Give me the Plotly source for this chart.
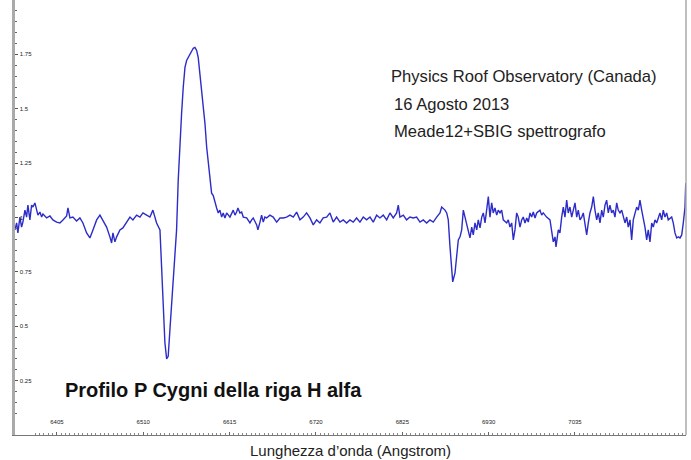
import plotly.graph_objects as go

# Wavelength (Angstrom) and normalised flux of the H-alpha region spectrum
wavelength = [
    6353.9, 6356.0, 6357.5, 6360.0, 6362.0, 6363.6, 6366.1, 6368.1, 6369.7, 6372.1,
    6374.2, 6375.8, 6378.2, 6380.3, 6381.9, 6384.3, 6386.4, 6388.0, 6392.5, 6396.5,
    6400.1, 6404.6, 6408.6, 6412.3, 6416.8, 6418.4, 6420.8, 6424.4, 6428.9, 6432.9,
    6436.6, 6441.1, 6445.1, 6448.8, 6453.3, 6457.3, 6460.9, 6465.4, 6469.4, 6471.5,
    6473.1, 6475.5, 6477.6, 6481.6, 6485.2, 6489.7, 6493.8, 6497.4, 6501.9, 6505.9,
    6509.6, 6514.1, 6518.1, 6521.7, 6524.2, 6526.2, 6530.3, 6532.3, 6534.3, 6536.3,
    6538.4, 6540.3, 6542.4, 6546.4, 6550.5, 6552.5, 6554.6, 6556.6, 6558.6, 6560.7,
    6562.7, 6564.7, 6566.7, 6568.8, 6570.8, 6572.8, 6574.9, 6576.8, 6578.9, 6581.0,
    6582.9, 6585.0, 6587.1, 6589.0, 6591.1, 6593.1, 6595.1, 6597.1, 6599.2, 6601.2,
    6603.2, 6605.3, 6607.2, 6609.3, 6611.4, 6615.4, 6619.4, 6621.5, 6623.5, 6625.1,
    6627.5, 6629.6, 6631.6, 6635.7, 6639.7, 6641.8, 6643.7, 6647.9, 6649.4, 6651.9,
    6653.9, 6655.9, 6657.9, 6660.0, 6664.0, 6668.0, 6670.1, 6672.2, 6676.2, 6680.2,
    6684.3, 6688.4, 6692.4, 6696.5, 6700.5, 6704.5, 6708.6, 6712.7, 6716.7, 6720.8,
    6724.8, 6728.8, 6733.0, 6737.0, 6741.0, 6745.1, 6749.2, 6753.2, 6757.3, 6761.3,
    6765.3, 6769.4, 6773.5, 6777.5, 6781.6, 6785.7, 6789.7, 6793.8, 6797.8, 6801.8,
    6806.0, 6810.0, 6814.0, 6818.1, 6820.1, 6822.1, 6826.2, 6830.2, 6834.3, 6838.3,
    6842.4, 6846.5, 6850.5, 6854.6, 6858.6, 6862.6, 6866.8, 6870.8, 6872.9, 6876.9,
    6879.0, 6880.9, 6883.0, 6885.1, 6886.3, 6889.1, 6891.2, 6893.1, 6895.2, 6897.2,
    6899.2, 6901.3, 6903.3, 6905.3, 6907.3, 6909.4, 6911.3, 6913.4, 6915.5, 6917.4,
    6919.5, 6921.6, 6923.5, 6925.6, 6927.6, 6929.6, 6931.6, 6933.7, 6935.6, 6937.7,
    6939.8, 6941.7, 6943.8, 6945.8, 6947.8, 6951.9, 6953.9, 6955.9, 6958.0, 6960.0,
    6962.0, 6964.1, 6966.0, 6968.1, 6970.2, 6972.1, 6974.2, 6976.3, 6978.2, 6980.3,
    6982.3, 6984.3, 6986.4, 6988.4, 6992.4, 6994.5, 6996.4, 7000.5, 7004.6, 7006.6,
    7008.6, 7010.7, 7011.9, 7014.7, 7016.7, 7018.8, 7020.8, 7022.8, 7024.9, 7026.8,
    7028.9, 7031.0, 7032.9, 7035.0, 7037.1, 7039.0, 7041.1, 7043.2, 7045.1, 7047.2,
    7049.2, 7051.2, 7053.2, 7055.3, 7057.3, 7059.3, 7061.4, 7063.3, 7065.4, 7067.5,
    7069.4, 7071.5, 7073.5, 7075.5, 7077.5, 7079.6, 7081.6, 7083.6, 7085.7, 7087.6,
    7089.7, 7091.8, 7093.7, 7095.8, 7097.9, 7099.8, 7101.9, 7103.9, 7105.9, 7108.0,
    7110.0, 7112.0, 7114.0, 7116.1, 7118.0, 7120.1, 7122.2, 7124.1, 7126.2, 7128.3,
    7130.2, 7132.3, 7134.3, 7136.3, 7138.3, 7140.4, 7142.4, 7144.4, 7146.5, 7148.4,
    7150.5, 7152.6, 7154.5, 7156.6, 7158.7, 7160.6, 7162.7, 7164.8, 7166.7, 7168.8,
    7169.7,
]

flux = [
    0.943, 0.975, 0.929, 1.002, 0.956, 0.979, 1.034, 1.002, 1.057, 0.989,
    1.057, 1.048, 1.067, 1.034, 1.011, 1.025, 1.002, 1.016, 0.998, 1.007,
    0.989, 0.979, 0.975, 0.989, 1.007, 1.044, 0.998, 1.002, 0.984, 0.998,
    0.975, 0.929, 0.906, 0.943, 0.989, 1.011, 0.989, 0.956, 0.911, 0.883,
    0.929, 0.888, 0.911, 0.943, 0.952, 0.979, 1.002, 0.989, 1.011, 1.002,
    1.021, 1.011, 1.002, 1.034, 1.002, 0.975, 0.943, 0.791, 0.635, 0.424,
    0.350, 0.362, 0.484, 0.700, 0.943, 1.172, 1.356, 1.479, 1.599, 1.690,
    1.722, 1.736, 1.755, 1.768, 1.778, 1.782, 1.768, 1.736, 1.663, 1.585,
    1.507, 1.433, 1.323, 1.250, 1.186, 1.112, 1.101, 1.067, 1.044, 1.021,
    1.034, 1.002, 1.021, 0.998, 1.021, 1.002, 1.034, 1.011, 1.025, 1.044,
    1.021, 1.025, 1.002, 0.998, 0.975, 0.989, 0.998, 0.966, 0.943, 0.979,
    1.011, 0.979, 1.002, 0.998, 1.011, 1.002, 0.989, 0.979, 0.998, 0.998,
    1.002, 1.011, 1.002, 1.025, 0.989, 1.002, 1.021, 0.998, 0.966, 0.989,
    0.975, 0.998, 1.002, 1.021, 0.979, 1.002, 0.979, 0.989, 0.975, 0.989,
    0.979, 0.998, 0.979, 1.002, 0.989, 1.002, 0.979, 1.011, 0.998, 1.011,
    0.989, 1.021, 0.998, 1.021, 1.057, 1.002, 1.011, 0.989, 1.002, 0.998,
    1.002, 0.979, 0.989, 0.975, 0.989, 0.979, 1.002, 1.021, 1.048, 1.034,
    1.021, 0.989, 0.865, 0.727, 0.704, 0.745, 0.819, 0.897, 0.911, 0.943,
    1.034, 1.002, 0.975, 0.943, 0.906, 0.956, 0.920, 0.975, 0.943, 0.989,
    0.952, 1.002, 1.021, 0.975, 1.034, 1.096, 1.002, 1.067, 1.021, 1.044,
    1.011, 1.034, 1.021, 1.034, 0.989, 0.975, 0.989, 0.956, 0.975, 0.897,
    0.943, 1.021, 1.002, 0.956, 0.989, 1.002, 0.975, 0.998, 0.979, 1.021,
    1.002, 1.025, 0.998, 1.021, 1.034, 1.011, 1.021, 1.002, 0.989, 0.929,
    0.888, 0.911, 0.865, 0.943, 0.929, 1.002, 1.048, 1.002, 1.080, 1.021,
    1.048, 1.002, 1.034, 1.067, 1.002, 1.034, 0.989, 1.002, 1.021, 0.956,
    0.920, 0.975, 1.021, 1.048, 1.096, 1.034, 0.989, 1.021, 0.975, 1.034,
    1.002, 1.057, 1.080, 1.021, 1.057, 1.021, 1.034, 1.002, 1.067, 1.034,
    1.021, 1.034, 1.002, 0.975, 1.002, 0.956, 0.989, 0.897, 0.989, 1.021,
    1.048, 1.034, 1.080, 1.034, 1.002, 0.956, 0.897, 0.943, 0.888, 0.975,
    0.956, 0.989, 0.975, 1.002, 1.021, 0.989, 1.034, 1.002, 1.021, 0.989,
    0.998, 1.002, 0.975, 0.929, 0.906, 0.911, 0.906, 0.920, 0.975, 1.048,
    1.158,
]

x_ticks = [6405, 6510, 6615, 6720, 6825, 6930, 7035]
y_ticks = [0.25, 0.5, 0.75, 1.0, 1.25, 1.5, 1.75]
y_tick_labels = ["0.25", "0.5", "0.75", "1", "1.25", "1.5", "1.75"]

x_range = [6354, 7170]
y_range = [0, 2.0]

info_lines = [
    "Physics Roof Observatory (Canada)",
    "16 Agosto 2013",
    "Meade12+SBIG spettrografo",
]
plot_title = "Profilo P Cygni della riga H alfa"
x_title = "Lunghezza d\u2019onda (Angstrom)"

fig = go.Figure()
fig.add_trace(go.Scatter(
    x=wavelength, y=flux, mode="lines",
    line=dict(color="#2c2cc8", width=1.4),
    hoverinfo="skip", showlegend=False,
))

tick_font = dict(family="Liberation Sans, Arial, sans-serif", size=6, color="#222222")

fig.update_xaxes(
    range=x_range, tickvals=x_ticks, ticktext=[str(v) for v in x_ticks],
    ticklabelposition="inside", ticks="inside", ticklen=3, tickcolor="#666666",
    ticklabelstandoff=5, automargin=False,
    tickfont=tick_font, showgrid=False, zeroline=False,
    showline=True, linecolor="#777777", linewidth=1,
    minor=dict(dtick=5.25, tick0=6405, ticks="inside", ticklen=2, tickcolor="#888888"),
    title=dict(text=x_title, standoff=21,
               font=dict(family="Liberation Sans Narrow, Arial Narrow, Liberation Sans, sans-serif",
                         size=15, color="#222222")),
)
fig.update_yaxes(
    range=y_range, tickvals=y_ticks, ticktext=y_tick_labels,
    ticklabelposition="inside", ticks="inside", ticklen=3, tickcolor="#555555",
    automargin=False,
    tickfont=tick_font, showgrid=False, zeroline=False,
    showline=True, linecolor="#aaaaaa", linewidth=3,
    minor=dict(dtick=0.05, tick0=0, ticks="inside", ticklen=2, tickcolor="#666666"),
)

# right-hand border of the plotting frame
fig.add_shape(type="line", xref="paper", yref="paper", x0=1, x1=1, y0=0, y1=1,
              line=dict(color="#aaaaaa", width=1.5))

info_font = dict(family="Liberation Sans, Arial, sans-serif", size=16.6, color="#222222")
for i, (line_text, ypix) in enumerate(zip(info_lines, [76, 104, 131])):
    fig.add_annotation(
        xref="paper", yref="paper", x=(389 + (3 if i else 0) - 15) / 671,
        y=1 - ypix / 435, text=line_text, showarrow=False,
        xanchor="left", yanchor="middle", font=info_font,
    )

fig.add_annotation(
    xref="paper", yref="paper", x=(63 - 15) / 671, y=1 - 390 / 435,
    text="<b>" + plot_title + "</b>", showarrow=False,
    xanchor="left", yanchor="middle",
    font=dict(family="Liberation Sans, Arial, sans-serif", size=20, color="#111111"),
)

fig.update_layout(
    width=691, height=460,
    margin=dict(l=15, r=5, t=0, b=25),
    paper_bgcolor="white", plot_bgcolor="white",
)

fig.write_html("out.html")
